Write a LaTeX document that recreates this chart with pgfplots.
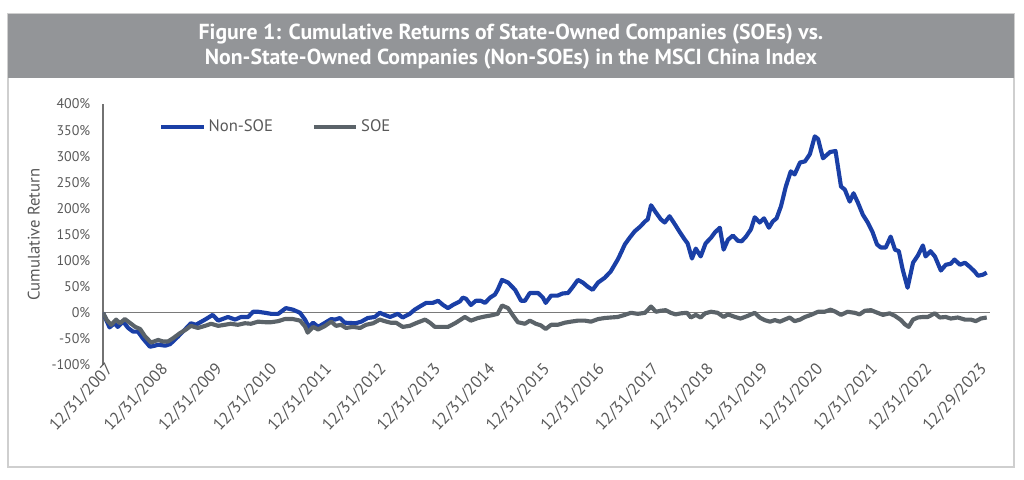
\documentclass[border=0pt]{standalone}
\usepackage{pgfplots}
\pgfplotsset{compat=1.18}
\usepackage{pgfplotstable}
\usepackage{fontspec}
\setmainfont{PT Sans}

\definecolor{nonsoe}{HTML}{1A3FA6}
\definecolor{soe}{HTML}{5B6369}
\definecolor{txt}{HTML}{595959}
\definecolor{banner}{HTML}{939598}
\definecolor{frame}{HTML}{CFCFCF}

% x = years since 12/31/2007, y = cumulative return in %
\pgfplotstableread{
t ret
0.00 0
0.12 -28
0.21 -20
0.27 -27
0.37 -17
0.46 -29
0.55 -36
0.64 -36
0.73 -49
0.86 -65
0.95 -63
1.01 -61
1.14 -63
1.23 -60
1.37 -46
1.52 -30
1.61 -20
1.70 -23
1.87 -13
2.01 -4
2.11 -15
2.29 -8
2.42 -13
2.53 -8
2.66 -8
2.75 2
2.84 2
2.97 0
3.08 -2
3.21 -2
3.35 9
3.48 6
3.61 0
3.70 -13
3.77 -27
3.85 -19
3.94 -27
4.07 -19
4.18 -12
4.25 -13
4.34 -10
4.43 -19
4.63 -20
4.73 -17
4.85 -10
4.98 -8
5.07 0
5.16 -4
5.26 -8
5.40 -2
5.49 -9
5.62 -2
5.71 6
5.82 13
5.92 19
6.04 19
6.14 23
6.23 15
6.32 9
6.41 15
6.54 22
6.59 29
6.65 27
6.74 15
6.83 23
6.92 23
7.00 19
7.09 29
7.18 35
7.23 44
7.31 63
7.42 58
7.55 44
7.66 23
7.73 23
7.82 38
7.97 38
8.06 29
8.11 19
8.21 33
8.33 33
8.42 37
8.52 38
8.61 50
8.70 63
8.79 58
8.88 50
8.97 44
9.07 58
9.19 67
9.30 79
9.43 102
9.49 115
9.56 131
9.65 144
9.74 156
9.84 165
9.93 175
9.98 179
10.04 206
10.13 192
10.22 179
10.29 173
10.38 185
10.48 169
10.57 154
10.66 140
10.71 133
10.79 104
10.86 123
10.95 108
11.04 133
11.14 144
11.21 154
11.30 163
11.37 121
11.45 140
11.54 148
11.63 138
11.70 137
11.78 146
11.87 160
11.94 183
12.03 173
12.11 181
12.20 163
12.27 175
12.34 181
12.42 204
12.51 242
12.60 271
12.67 265
12.77 288
12.86 290
12.95 304
13.04 338
13.10 333
13.19 296
13.32 308
13.42 310
13.52 242
13.59 236
13.68 213
13.75 229
13.83 211
13.92 188
14.01 173
14.10 154
14.18 131
14.25 125
14.34 125
14.43 146
14.51 121
14.58 118
14.65 83
14.74 48
14.84 96
14.93 110
15.02 129
15.07 108
15.16 118
15.24 108
15.35 81
15.44 92
15.53 94
15.60 102
15.70 92
15.79 96
15.88 88
15.97 79
16.03 71
16.12 73
16.19 77
}\nonsoedata

\pgfplotstableread{
t ret
0.00 0
0.07 -14
0.15 -23
0.24 -13
0.31 -20
0.40 -12
0.49 -19
0.59 -27
0.68 -31
0.77 -45
0.88 -57
1.01 -52
1.10 -55
1.19 -55
1.28 -49
1.41 -39
1.52 -32
1.61 -25
1.74 -29
1.87 -25
1.98 -21
2.11 -25
2.23 -23
2.34 -21
2.47 -23
2.60 -20
2.71 -21
2.84 -17
2.97 -18
3.08 -18
3.21 -16
3.33 -12
3.48 -12
3.61 -15
3.70 -26
3.75 -38
3.85 -27
3.94 -32
4.07 -25
4.18 -17
4.27 -25
4.36 -23
4.45 -29
4.58 -27
4.71 -29
4.82 -23
4.95 -20
5.07 -13
5.16 -16
5.27 -19
5.37 -19
5.49 -27
5.62 -25
5.73 -20
5.90 -13
5.99 -19
6.08 -27
6.19 -27
6.32 -27
6.45 -20
6.54 -14
6.63 -8
6.74 -15
6.87 -10
7.00 -7
7.11 -5
7.23 -2
7.31 14
7.42 9
7.51 -5
7.60 -18
7.73 -21
7.82 -15
7.93 -21
8.02 -24
8.11 -31
8.21 -23
8.33 -23
8.46 -19
8.57 -17
8.70 -15
8.83 -15
8.94 -17
9.07 -12
9.19 -10
9.30 -9
9.43 -8
9.56 -4
9.67 0
9.80 -2
9.93 0
10.04 12
10.13 2
10.22 4
10.31 5
10.40 0
10.49 -3
10.59 -1
10.70 0
10.77 -9
10.86 -4
10.95 -9
11.03 -1
11.14 2
11.26 0
11.37 -8
11.45 -3
11.58 -8
11.68 -11
11.81 -6
11.94 0
12.03 -9
12.12 -14
12.22 -17
12.31 -14
12.40 -17
12.49 -13
12.58 -9
12.67 -16
12.77 -13
12.86 -8
12.97 -4
13.10 2
13.22 2
13.33 6
13.42 2
13.52 -4
13.64 2
13.77 0
13.86 -3
13.96 4
14.07 5
14.19 0
14.29 -4
14.41 -1
14.51 -6
14.62 -14
14.69 -22
14.76 -27
14.84 -13
14.93 -9
15.02 -8
15.11 -8
15.24 -1
15.33 -9
15.44 -8
15.53 -11
15.66 -9
15.79 -13
15.90 -13
15.99 -16
16.08 -11
16.19 -9
}\soedata

\begin{document}
\begin{tikzpicture}
% page = 1024 x 479 px at 0.75 pt per px
\path[use as bounding box] (0,0) rectangle (768pt,359.25pt);
\draw[frame, line width=0.9pt] (6pt,9pt) rectangle (760.5pt,348.75pt);
\fill[banner] (6pt,300.75pt) rectangle (760.5pt,348.75pt);
\node[text=white, font=\fontsize{16.3}{19}\selectfont\bfseries, align=center]
  at (383.25pt,324.2pt) {Figure 1: Cumulative Returns of State-Owned Companies (SOEs) vs.\\
  Non-State-Owned Companies (Non-SOEs) in the MSCI China Index};

\begin{axis}[
  at={(77.25pt,85.5pt)},
  anchor=south west,
  scale only axis,
  width=665.25pt,
  height=195.75pt,
  xmin=0, xmax=16.25,
  ymin=-100, ymax=400,
  axis lines=left,
  axis line style={-},
  x axis line style={draw=none},
  y axis line style={draw=txt!85, line width=1pt},
  major tick length=0pt,
  xtick={0,1,...,16},
  xticklabels={12/31/2007,12/31/2008,12/31/2009,12/31/2010,12/31/2011,12/31/2012,12/31/2013,12/31/2014,12/31/2015,12/31/2016,12/31/2017,12/31/2018,12/31/2019,12/31/2020,12/31/2021,12/31/2022,12/29/2023},
  xticklabel style={rotate=47, anchor=east, font=\fontsize{12.5}{14}\selectfont, text=txt, inner sep=1pt, yshift=-5pt, xshift=4pt},
  ytick={-100,-50,...,400},
  yticklabel={\pgfmathprintnumber[assume math mode=true]{\tick}\%},
  yticklabel style={font=\fontsize{10.5}{12}\selectfont, text=txt, xshift=-6pt},
  ylabel={Cumulative Return},
  ylabel style={font=\fontsize{12.5}{14}\selectfont, text=txt, yshift=2pt},
  legend columns=2,
  legend style={at={(0.063,0.912)}, anchor=west, draw=none, fill=none,
    inner sep=0pt, font=\fontsize{12.5}{14}\selectfont, text=txt,
    /tikz/every even column/.append style={column sep=27pt}},
  legend image code/.code={\draw[#1] (0pt,0pt) -- (32pt,0pt);},
]
\addplot[forget plot, draw=txt!80, line width=1pt] coordinates {(0,0) (16.25,0)};
\addplot[nonsoe, line width=3.1pt, line join=round] table[x=t, y=ret] {\nonsoedata};
\addlegendentry{Non-SOE}
\addplot[soe, line width=3.1pt, line join=round] table[x=t, y=ret] {\soedata};
\addlegendentry{SOE}
\end{axis}
\end{tikzpicture}
\end{document}
